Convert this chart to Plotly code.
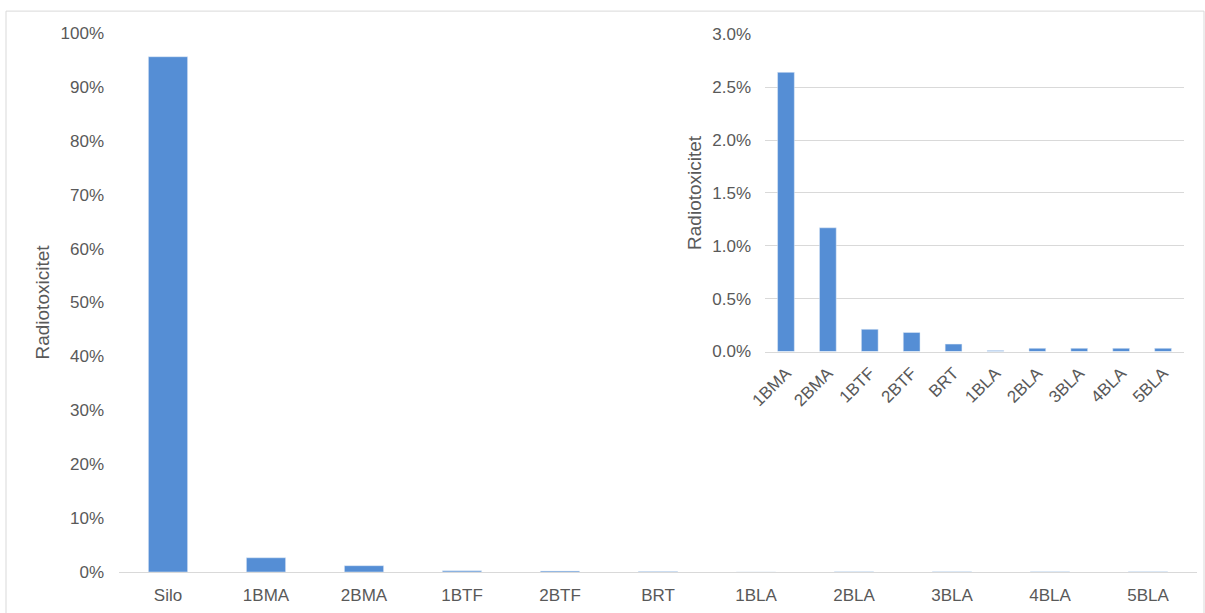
import plotly.graph_objects as go

categories = ["Silo", "1BMA", "2BMA", "1BTF", "2BTF", "BRT", "1BLA", "2BLA", "3BLA", "4BLA", "5BLA"]
radiotox_pct = [95.60, 2.64, 1.17, 0.21, 0.18, 0.07, 0.01, 0.03, 0.03, 0.03, 0.03]
inset_categories = categories[1:]
inset_pct = radiotox_pct[1:]

main_ticks = [0, 10, 20, 30, 40, 50, 60, 70, 80, 90, 100]
main_ticktext = [f"{v}%" for v in main_ticks]
inset_ticks = [0.0, 0.5, 1.0, 1.5, 2.0, 2.5, 3.0]
inset_ticktext = [f"{v:.1f}%" for v in inset_ticks]

BLUE = "#558ED5"
GRID = "#D9D9D9"
TXT = "#595959"
FONT = "Liberation Sans, Arial, sans-serif"

W, H = 1205, 613
L, R, T, B = 119, 8, 33, 38
PW, PH = W - L - R, H - T - B

def px_x(p):
    return (p - L) / PW

def px_y(p):
    return (H - B - p) / PH

fig = go.Figure()

# main bars
fig.add_trace(go.Bar(x=categories, y=radiotox_pct, marker_color=BLUE,
                     xaxis="x3", yaxis="y3", showlegend=False))
# inset bars
fig.add_trace(go.Bar(x=inset_categories, y=inset_pct, marker_color=BLUE,
                     xaxis="x4", yaxis="y4", showlegend=False))

hidden_x = dict(showgrid=False, showticklabels=False, zeroline=False,
                showline=False, ticks="", range=[0, 1], fixedrange=True)

fig.update_layout(
    width=W, height=H,
    margin=dict(l=L, r=R, t=T, b=B),
    paper_bgcolor="white", plot_bgcolor="white",
    font=dict(family=FONT, color=TXT, size=17),
    bargap=0.6,
    # full-width grid lines (lower part)
    xaxis=dict(domain=[0, 1], anchor="y", **hidden_x),
    yaxis=dict(domain=[0, 1], anchor="x", range=[0, 100], tickvals=[10, 20],
               showticklabels=False, showgrid=True, gridcolor=GRID, gridwidth=1,
               zeroline=False, ticks="", showline=False),
    # left-only grid lines (upper part, hidden behind inset)
    xaxis2=dict(domain=[0, px_x(657)], anchor="y2", **hidden_x),
    yaxis2=dict(domain=[0, 1], anchor="x2", range=[0, 100],
                tickvals=[30, 40, 50, 60, 70, 80, 90, 100],
                showticklabels=False, showgrid=True, gridcolor=GRID, gridwidth=1,
                zeroline=False, ticks="", showline=False),
    # main chart axes
    xaxis3=dict(domain=[0, 1], anchor="y3", showgrid=False, zeroline=False,
                showline=True, linecolor=GRID, linewidth=1, ticks="",
                tickfont=dict(size=17, color=TXT), tickangle=0,
                ticklabelstandoff=8),
    yaxis3=dict(domain=[0, 1], anchor="x3", range=[0, 100], tickvals=main_ticks,
                ticktext=main_ticktext, showgrid=False, zeroline=False,
                showline=False, ticks="", tickfont=dict(size=17, color=TXT),
                ticklabelstandoff=14,
                title=dict(text="Radiotoxicitet", font=dict(size=19, color=TXT),
                           standoff=5)),
    # inset axes
    xaxis4=dict(domain=[px_x(765), px_x(1184)], anchor="y4", showgrid=False,
                zeroline=False, showline=True, linecolor=GRID, linewidth=1,
                ticks="", tickangle=-45, tickfont=dict(size=17, color=TXT),
                ticklabelstandoff=4),
    yaxis4=dict(domain=[px_y(353.3), px_y(34.3)], anchor="x4", range=[0, 3],
                tickvals=inset_ticks, ticktext=inset_ticktext,
                showgrid=True, gridcolor=GRID, gridwidth=1, zeroline=False,
                showline=False, ticks="", tickfont=dict(size=17, color=TXT),
                ticklabelstandoff=13,
                title=dict(text="Radiotoxicitet", font=dict(size=19, color=TXT),
                           standoff=5)),
    shapes=[
        dict(type="rect", xref="paper", yref="paper",
             x0=px_x(6), x1=px_x(1204), y0=px_y(625), y1=px_y(11),
             line=dict(color=GRID, width=1), fillcolor="rgba(0,0,0,0)",
             layer="below"),
    ],
)

fig.write_html("out.html", config={"displayModeBar": False},
               post_script="document.body.style.margin='0';")
